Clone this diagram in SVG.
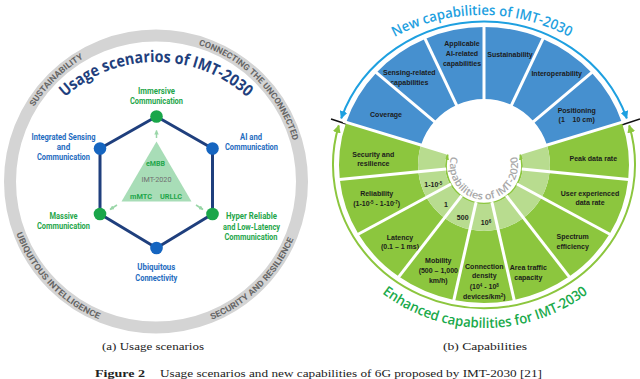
<svg xmlns="http://www.w3.org/2000/svg" width="640" height="379" viewBox="0 0 640 379">
<style>
.lb{font-family:Roboto,'Liberation Sans',sans-serif;font-weight:700;font-size:9px;text-anchor:middle}
.bl{fill:#1f6cc0}.gr{fill:#1fa64b}
.ring{font-family:Roboto,'Liberation Sans',sans-serif;font-weight:700;font-size:8.5px;fill:#666;text-anchor:middle}
.seg{font-family:'Liberation Sans',Arial,sans-serif;font-weight:700;font-size:7px;fill:#1b1b1b;text-anchor:middle}
.sup{font-size:4.5px}
.blue{fill:#4690cf}.dg{fill:#8cc63e}.lg{fill:#b8dc8f}
.div{stroke:#fff;stroke-width:3}
.cap{font-family:'Liberation Serif','DejaVu Serif',serif;font-size:11px;fill:#222}
</style>
<defs>
<marker id="ab" viewBox="0 0 10 10" refX="9" refY="5" markerWidth="8" markerHeight="8" markerUnits="userSpaceOnUse" orient="auto-start-reverse"><path d="M0,0 L10,5 L0,10 z" fill="#1ea0e0"/></marker>
<marker id="ag" viewBox="0 0 10 10" refX="9" refY="5" markerWidth="8" markerHeight="8" markerUnits="userSpaceOnUse" orient="auto-start-reverse"><path d="M0,0 L10,5 L0,10 z" fill="#8cc63e"/></marker>
<marker id="ai" viewBox="0 0 10 10" refX="9" refY="5" markerWidth="6" markerHeight="6" markerUnits="userSpaceOnUse" orient="auto-start-reverse"><path d="M0,0 L10,5 L0,10 z" fill="#8cc63e"/></marker>
<marker id="at" viewBox="0 0 10 10" refX="9" refY="5" markerWidth="4.5" markerHeight="4.5" markerUnits="userSpaceOnUse" orient="auto"><path d="M0,0 L10,5 L0,10 z" fill="#9ad6a8"/></marker>
<path id="ringUp" d="M13,181.5 A143 143 0 1 1 299,181.5 A143 143 0 1 1 13,181.5"/>
<path id="ringDn" d="M7,181.5 A149 149 0 1 0 305,181.5 A149 149 0 1 0 7,181.5"/>
<path id="titleL" d="M21,197 A135 135 0 0 1 291,197"/>
<path id="titleN" d="M351.2,69.2 A185 185 0 0 1 612.8,69.2"/>
<path id="titleE" d="M337.8,243 A170 170 0 0 0 632.2,243"/>
<path id="inner" d="M451.5,155.6 A34 34 0 1 0 516.5,155.6"/>
</defs>
<rect width="640" height="379" fill="#fff"/>

<!-- LEFT: usage scenarios -->
<g id="ring-left">
<circle cx="156" cy="181.5" r="146" fill="none" stroke="#d4d4d4" stroke-width="12"/>
<text class="ring"><textPath href="#ringUp" startOffset="12.64%" textLength="70" lengthAdjust="spacingAndGlyphs">SUSTAINABILITY</textPath></text>
<text class="ring"><textPath href="#ringUp" startOffset="37.6%" textLength="140" lengthAdjust="spacingAndGlyphs">CONNECTING THE UNCONNECTED</textPath></text>
<text class="ring"><textPath href="#ringDn" startOffset="12.2%" textLength="122" lengthAdjust="spacingAndGlyphs">UBIQUITOUS INTELLIGENCE</textPath></text>
<text class="ring"><textPath href="#ringDn" startOffset="37.4%" textLength="118" lengthAdjust="spacingAndGlyphs">SECURITY AND RESILIENCE</textPath></text>
</g>
<g id="title-left">
<text style="font-family:'Open Sans','Liberation Sans',sans-serif;font-weight:700;font-size:16px;fill:#1f3f7d;text-anchor:middle"><textPath href="#titleL" startOffset="50%" textLength="200" lengthAdjust="spacingAndGlyphs">Usage scenarios of IMT-2030</textPath></text>
</g>

<g id="connectors">
<path d="M156.5,116.5 L212.5,148.5 L212.5,214 L156.5,248 L100,214 L100,148.5 Z" fill="none" stroke="#1f3f7d" stroke-width="3" stroke-linejoin="round"/>
<g stroke="#9ad6a8" stroke-width="1.5" fill="none" marker-end="url(#at)">
<line x1="156.5" y1="138" x2="156.5" y2="130.5"/>
<line x1="117" y1="205" x2="110" y2="209.5"/>
<line x1="196" y1="205" x2="203" y2="209.5"/>
</g>
<path d="M341.2,118.3 A151 143.5 0 0 1 626.8,118.3" fill="none" stroke="#1ea0e0" stroke-width="2" marker-start="url(#ab)" marker-end="url(#ab)"/>
<path d="M338.8,125.4 A151 143.5 0 1 0 629.2,125.4" fill="none" stroke="#8cc63e" stroke-width="2" marker-start="url(#ag)" marker-end="url(#ag)"/>
<path d="M447.7,154.4 A38 38 0 1 0 520.3,154.4" fill="none" stroke="#8cc63e" stroke-width="1.8" marker-start="url(#ai)" marker-end="url(#ai)"/>
<line x1="331" y1="119" x2="351" y2="125.5" stroke="#111" stroke-width="1.5"/>
<line x1="620" y1="125.5" x2="640" y2="119" stroke="#111" stroke-width="1.5"/>
</g>

<g id="imt2020">
<path d="M156.5,141.5 L191.5,201.5 L121.5,201.5 Z" fill="#a8ddb7"/>
<text class="lb gr" x="155.5" y="166" textLength="19" lengthAdjust="spacingAndGlyphs" style="font-size:8px">eMBB</text>
<text x="156.5" y="182" textLength="30" lengthAdjust="spacingAndGlyphs" style="font-family:Roboto,'Liberation Sans',sans-serif;font-size:7px;fill:#707070;text-anchor:middle">IMT-2020</text>
<text class="lb gr" x="141" y="198.5" textLength="22" lengthAdjust="spacingAndGlyphs" style="font-size:8px">mMTC</text>
<text class="lb gr" x="171" y="198.5" textLength="22" lengthAdjust="spacingAndGlyphs" style="font-size:8px">URLLC</text>
</g>

<g id="immersive">
<circle cx="156.5" cy="116.5" r="6.3" fill="#1aa64a"/>
<text class="lb gr" x="156.5" y="94" textLength="37" lengthAdjust="spacingAndGlyphs">Immersive</text>
<text class="lb gr" x="156.5" y="104" textLength="53" lengthAdjust="spacingAndGlyphs">Communication</text>
</g>
<g id="isac">
<circle cx="100" cy="148.5" r="6.3" fill="#1565c0"/>
<text class="lb bl" x="63.5" y="139.5" textLength="64" lengthAdjust="spacingAndGlyphs">Integrated Sensing</text>
<text class="lb bl" x="63.5" y="149.5" textLength="13.5" lengthAdjust="spacingAndGlyphs">and</text>
<text class="lb bl" x="63.5" y="160" textLength="53" lengthAdjust="spacingAndGlyphs">Communication</text>
</g>
<g id="ai-comm">
<circle cx="212.5" cy="148.5" r="6.3" fill="#1565c0"/>
<text class="lb bl" x="251" y="139.5" textLength="22" lengthAdjust="spacingAndGlyphs">AI and</text>
<text class="lb bl" x="251.5" y="150" textLength="53" lengthAdjust="spacingAndGlyphs">Communication</text>
</g>
<g id="massive">
<circle cx="100" cy="214" r="6.3" fill="#1aa64a"/>
<text class="lb gr" x="63.5" y="218.5" textLength="28" lengthAdjust="spacingAndGlyphs">Massive</text>
<text class="lb gr" x="63.5" y="229" textLength="53" lengthAdjust="spacingAndGlyphs">Communication</text>
</g>
<g id="hrllc">
<circle cx="212.5" cy="214" r="6.3" fill="#1aa64a"/>
<text class="lb gr" x="251.5" y="218.5" textLength="51" lengthAdjust="spacingAndGlyphs">Hyper Reliable</text>
<text class="lb gr" x="251.5" y="229.5" textLength="57" lengthAdjust="spacingAndGlyphs">and Low-Latency</text>
<text class="lb gr" x="251" y="240" textLength="53" lengthAdjust="spacingAndGlyphs">Communication</text>
</g>
<g id="ubiquitous">
<circle cx="156.5" cy="248" r="6.3" fill="#1565c0"/>
<text class="lb bl" x="156.3" y="270" textLength="38" lengthAdjust="spacingAndGlyphs">Ubiquitous</text>
<text class="lb bl" x="156.3" y="280.5" textLength="42" lengthAdjust="spacingAndGlyphs">Connectivity</text>
</g>

<!-- RIGHT: capabilities wheel -->
<g id="positioning"><path class="blue" d="M621.9,122.4 A145 138 0 0 0 591.7,72.7 L533,120.8 A66 66 0 0 1 546.8,144.6 Z"/>
<text class="seg" x="576.7" y="112.5">Positioning</text><text class="seg" x="576.7" y="121.8">(1&#160;&#160;&#160;&#160;10 cm)</text></g>
<g id="interoperability"><path class="blue" d="M591.7,72.7 A145 138 0 0 0 543,38.9 L510.8,104.7 A66 66 0 0 1 533,120.8 Z"/>
<text class="seg" x="556.7" y="75.8">Interoperability</text></g>
<g id="sustainability"><path class="blue" d="M543,38.9 A145 138 0 0 0 484,27 L484,99 A66 66 0 0 1 510.8,104.7 Z"/>
<text class="seg" x="510" y="56.8">Sustainability</text></g>
<g id="ai-capabilities"><path class="blue" d="M484,27 A145 138 0 0 0 425,38.9 L457.2,104.7 A66 66 0 0 1 484,99 Z"/>
<text class="seg" x="462" y="45.8">Applicable</text><text class="seg" x="462" y="55.8">AI-related</text><text class="seg" x="462" y="65.8">capabilities</text></g>
<g id="sensing"><path class="blue" d="M425,38.9 A145 138 0 0 0 376.3,72.7 L435,120.8 A66 66 0 0 1 457.2,104.7 Z"/>
<text class="seg" x="409.3" y="75">Sensing-related</text><text class="seg" x="409.3" y="85">capabilities</text></g>
<g id="coverage"><path class="blue" d="M376.3,72.7 A145 138 0 0 0 346.1,122.4 L421.2,144.6 A66 66 0 0 1 435,120.8 Z"/>
<text class="seg" x="386" y="116.5">Coverage</text></g>

<g id="security"><path class="dg" d="M346.1,122.4 A145 138 0 0 0 339.8,179.4 L418.4,171.9 A66 66 0 0 1 421.2,144.6 Z"/>
<path class="lg" d="M421.2,144.6 A66 66 0 0 0 418.4,171.9 L445.2,169.1 A39 39 0 0 1 446.9,153 Z"/>
<text class="seg" x="373.3" y="156.5">Security and</text><text class="seg" x="373.3" y="165.8">resilience</text></g>
<g id="reliability"><path class="dg" d="M339.8,179.4 A145 138 0 0 0 358.4,234 L426.8,198 A66 66 0 0 1 418.4,171.9 Z"/>
<path class="lg" d="M418.4,171.9 A66 66 0 0 0 426.8,198 L450.2,184.5 A39 39 0 0 1 445.2,169.1 Z"/>
<text class="seg" x="376.7" y="195.8">Reliability</text>
<text class="seg" x="376.7" y="205.8">(1-10<tspan class="sup" dy="-2">-5</tspan><tspan dy="2"> - 1-10</tspan><tspan class="sup" dy="-2">-7</tspan><tspan dy="2">)</tspan></text>
<text class="seg" x="433.3" y="186.8">1-10<tspan class="sup" dy="-2">-5</tspan></text></g>
<g id="latency"><path class="dg" d="M358.4,234 A145 138 0 0 0 398.8,276.6 L445.2,218.4 A66 66 0 0 1 426.8,198 Z"/>
<path class="lg" d="M426.8,198 A66 66 0 0 0 445.2,218.4 L461.1,196.6 A39 39 0 0 1 450.2,184.5 Z"/>
<text class="seg" x="400" y="239.8">Latency</text><text class="seg" x="400" y="249.2">(0.1 – 1 ms)</text>
<text class="seg" x="446" y="206.8">1</text></g>
<g id="mobility"><path class="dg" d="M398.8,276.6 A145 138 0 0 0 453.9,300 L470.3,229.6 A66 66 0 0 1 445.2,218.4 Z"/>
<path class="lg" d="M445.2,218.4 A66 66 0 0 0 470.3,229.6 L475.9,203.1 A39 39 0 0 1 461.1,196.6 Z"/>
<text class="seg" x="438.3" y="263.2">Mobility</text><text class="seg" x="438.3" y="273.2">(500 – 1,000</text><text class="seg" x="438.3" y="283.2">km/h)</text>
<text class="seg" x="462.7" y="220.2">500</text></g>
<g id="connection-density"><path class="dg" d="M453.9,300 A145 138 0 0 0 514.1,300 L497.7,229.6 A66 66 0 0 1 470.3,229.6 Z"/>
<path class="lg" d="M470.3,229.6 A66 66 0 0 0 497.7,229.6 L492.1,203.1 A39 39 0 0 1 475.9,203.1 Z"/>
<text class="seg" x="484.3" y="268.5">Connection</text><text class="seg" x="484.3" y="278">density</text>
<text class="seg" x="484.3" y="288.5">(10<tspan class="sup" dy="-2">4</tspan><tspan dy="2"> - 10</tspan><tspan class="sup" dy="-2">8</tspan></text>
<text class="seg" x="484.3" y="298.5">devices/km<tspan class="sup" dy="-2">2</tspan><tspan dy="2">)</tspan></text>
<text class="seg" x="486" y="224.8">10<tspan class="sup" dy="-2">6</tspan></text></g>
<g id="area-traffic"><path class="dg" d="M514.1,300 A145 138 0 0 0 569.2,276.6 L522.8,218.4 A66 66 0 0 1 497.7,229.6 Z"/>
<path class="lg" d="M497.7,229.6 A66 66 0 0 0 522.8,218.4 L506.9,196.6 A39 39 0 0 1 492.1,203.1 Z"/>
<text class="seg" x="528.3" y="269.8">Area traffic</text><text class="seg" x="528.3" y="279.8">capacity</text></g>
<g id="spectrum"><path class="dg" d="M569.2,276.6 A145 138 0 0 0 609.6,234 L541.2,198 A66 66 0 0 1 522.8,218.4 Z"/>
<path class="lg" d="M522.8,218.4 A66 66 0 0 0 541.2,198 L517.8,184.5 A39 39 0 0 1 506.9,196.6 Z"/>
<text class="seg" x="572.7" y="239.2">Spectrum</text><text class="seg" x="572.7" y="249.2">efficiency</text></g>
<g id="user-rate"><path class="dg" d="M609.6,234 A145 138 0 0 0 628.2,179.4 L549.6,171.9 A66 66 0 0 1 541.2,198 Z"/>
<path class="lg" d="M541.2,198 A66 66 0 0 0 549.6,171.9 L522.8,169.1 A39 39 0 0 1 517.8,184.5 Z"/>
<text class="seg" x="590" y="195.8">User experienced</text><text class="seg" x="590" y="205.2">data rate</text></g>
<g id="peak-rate"><path class="dg" d="M628.2,179.4 A145 138 0 0 0 621.9,122.4 L546.8,144.6 A66 66 0 0 1 549.6,171.9 Z"/>
<path class="lg" d="M549.6,171.9 A66 66 0 0 0 546.8,144.6 L521.1,153 A39 39 0 0 1 522.8,169.1 Z"/>
<text class="seg" x="593.3" y="160.8">Peak data rate</text></g>

<g id="dividers" class="div">
<line x1="520.1" y1="153.3" x2="624.8" y2="121.4"/>
<line x1="512.2" y1="139.6" x2="594" y2="70.7"/>
<line x1="499.5" y1="130.3" x2="544.2" y2="36.2"/>
<line x1="484" y1="127" x2="484" y2="24"/>
<line x1="468.5" y1="130.3" x2="423.8" y2="36.2"/>
<line x1="455.8" y1="139.6" x2="374" y2="70.7"/>
<line x1="447.9" y1="153.3" x2="343.2" y2="121.4"/>
<line x1="446.2" y1="169" x2="336.8" y2="179.7"/>
<line x1="451.1" y1="184" x2="355.8" y2="235.5"/>
<line x1="461.7" y1="195.7" x2="397" y2="279.1"/>
<line x1="476.1" y1="202.2" x2="453.2" y2="302.9"/>
<line x1="491.9" y1="202.2" x2="514.8" y2="302.9"/>
<line x1="506.3" y1="195.7" x2="571" y2="279.1"/>
<line x1="516.9" y1="184" x2="612.2" y2="235.5"/>
<line x1="521.8" y1="169" x2="631.2" y2="179.7"/>
</g>

<g id="titles-right">
<text style="font-family:'Open Sans','Liberation Sans',sans-serif;font-weight:600;font-size:14px;fill:#1ea0e0;text-anchor:middle"><textPath href="#titleN" startOffset="50%" textLength="182" lengthAdjust="spacingAndGlyphs">New capabilities of IMT-2030</textPath></text>
<text style="font-family:'Open Sans','Liberation Sans',sans-serif;font-weight:600;font-size:14px;fill:#1aaa4b;text-anchor:middle"><textPath href="#titleE" startOffset="50%" textLength="221" lengthAdjust="spacingAndGlyphs">Enhanced capabilities for IMT-2030</textPath></text>
<text style="font-family:'Open Sans','Liberation Sans',sans-serif;font-weight:600;font-size:10px;fill:#a8a8a8;text-anchor:middle"><textPath href="#inner" startOffset="50%" textLength="125" lengthAdjust="spacingAndGlyphs">Capabilities of IMT-2020</textPath></text>
</g>

<g id="captions">
<text class="cap" x="102" y="349.5" textLength="102" lengthAdjust="spacingAndGlyphs">(a) Usage scenarios</text>
<text class="cap" x="443" y="349.5" textLength="84" lengthAdjust="spacingAndGlyphs">(b) Capabilities</text>
<text class="cap" x="95" y="376.5" textLength="50" lengthAdjust="spacingAndGlyphs" font-weight="700">Figure 2</text>
<text class="cap" x="160" y="376.5" textLength="382" lengthAdjust="spacingAndGlyphs">Usage scenarios and new capabilities of 6G proposed by IMT-2030 [21]</text>
</g>
</svg>
